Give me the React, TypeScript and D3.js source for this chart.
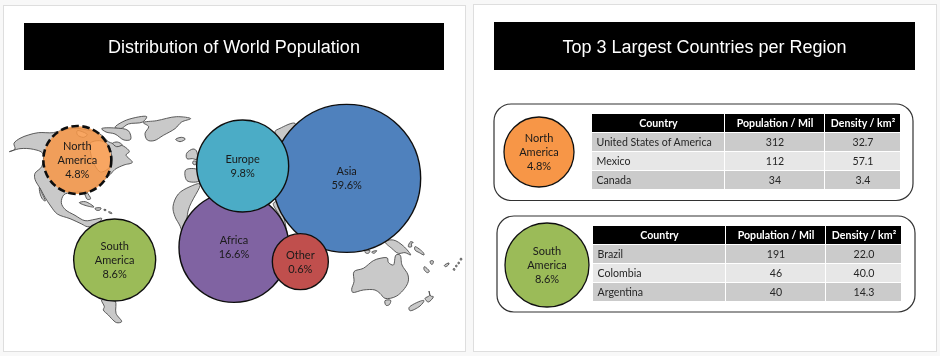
import React from "react";
import * as d3 from "d3";

const regionNames = ["Asia", "Africa", "Europe", "Other", "South America", "North America"];
const regionShares = [59.6, 16.6, 9.8, 0.6, 8.6, 4.8];
const regionColors = ["#4F81BD", "#8064A2", "#4BACC6", "#C0504D", "#9BBB59", "#F79646"];
// where each bubble sits on the map, in map units (source crop of 3x pixels)
const regionMapX = [1040, 702, 728, 901, 344, 232];
const regionMapY = [265, 472, 228, 515, 510, 210];
const shareDomain = [0.6, 4.8, 8.6, 9.8, 16.6, 59.6];
const radiusRange = [28, 34, 41, 46, 55, 74];

const tableHeader = ["Country", "Population / Mil", "Density / km²"];
const naCountries = ["United States of America", "Mexico", "Canada"];
const naPopulation = ["312", "112", "34"];
const naDensity = ["32.7", "57.1", "3.4"];
const saCountries = ["Brazil", "Colombia", "Argentina"];
const saPopulation = ["191", "46", "40"];
const saDensity = ["22.0", "40.0", "14.3"];

type P = [number, number];
// Outlines in map units: [x,y] * 1/3 px + crop origin
const landA: P[][] = [ // origin 0,110
  [[28,125],[45,117],[42,100],[60,85],[85,75],[115,68],[160,68],[190,60],[230,55],[270,62],[300,72],[325,95],[338,100],[370,108],[388,125],[378,135],[397,157],[372,165],[345,178],[332,192],[300,220],[275,238],[262,245],[272,266],[262,268],[250,248],[215,248],[192,254],[184,278],[195,298],[225,316],[255,332],[285,328],[305,325],[290,345],[262,350],[245,342],[210,326],[172,312],[152,288],[135,262],[122,238],[105,208],[105,190],[125,170],[128,130],[100,118],[60,116]],
  [[118,232],[126,250],[136,273],[128,268],[120,250]],
  [[430,38],[470,32],[530,20],[572,26],[545,36],[525,56],[490,76],[462,92],[442,90],[435,70],[446,50]],
  [[345,52],[380,30],[440,20],[428,36],[385,42],[362,56]],
  [[305,56],[345,54],[385,62],[392,88],[372,90],[345,72],[318,66]],
  [[338,100],[352,96],[366,104],[350,110]],
  [[527,88],[545,82],[556,87],[540,95]],
  [[238,278],[256,275],[282,291],[262,288]],
  [[285,295],[303,294],[300,300],[288,300]],
  [[312,298],[318,299],[317,302],[312,301]],
  [[326,305],[336,309],[335,311],[326,307]],
];
const bayA: P[][] = [ // origin 0,110: inland water seen through the North America bubble
  [[270,100],[298,92],[322,102],[334,130],[330,170],[302,186],[284,165],[272,130]],
  [[232,62],[262,74],[250,82],[232,74]],
];
const landB: P[][] = [ // origin 340,230
  [[42,125],[70,115],[100,92],[120,85],[142,84],[145,97],[160,105],[168,75],[180,75],[186,105],[204,135],[203,160],[170,198],[135,205],[120,190],[105,180],[70,180],[38,187],[35,178],[42,155]],
  [[135,212],[152,211],[148,224],[138,226]],
  [[207,233],[245,212],[252,212],[240,228],[210,242]],
  [[255,205],[268,197],[267,183],[272,198],[280,200],[265,216]],
  [[135,35],[160,30],[190,48],[212,75],[195,68],[175,70],[155,55]],
  [[205,50],[212,35],[220,38],[214,40],[215,50]],
  [[225,50],[250,68],[252,75],[238,68],[225,60]],
  [[75,62],[90,62],[85,70],[76,68]],
  [[95,66],[110,62],[102,70]],
  [[253,110],[268,124],[262,128],[252,118]],
  [[271,93],[280,93],[277,103],[272,101]],
  [[313,106],[327,99],[325,105],[316,110]],
  [[340,116],[344,116],[344,121],[340,120]],
  [[347,106],[351,106],[351,110],[347,110]],
  [[354,97],[358,97],[358,101],[354,101]],
  [[361,85],[365,85],[365,90],[361,90]],
];
const landC: P[][] = [ // origin 165,110
  [[65,130],[84,117],[94,122],[96,148],[82,146],[66,146]],
  [[84,154],[93,154],[92,164],[84,162]],
  [[62,180],[100,180],[104,212],[66,212]],
  [[105,222],[75,230],[40,252],[24,290],[30,320],[46,350],[60,400],[70,300]],
  [[330,65],[345,55],[390,40],[392,72],[358,95]],
  [[325,280],[340,275],[368,385],[345,320]],
];
const landD: P[][] = [ // origin 80,280
  [[65,60],[105,62],[108,100],[125,125],[110,128],[95,116],[85,105],[70,90],[73,80]],
];
const landGroups: { x0: number; y0: number; shapes: P[][]; fill: string }[] = [
  { x0: 0, y0: 110, shapes: landA, fill: "#C9C9C9" },
  { x0: 0, y0: 110, shapes: bayA, fill: "#ffffff" },
  { x0: 340, y0: 230, shapes: landB, fill: "#C9C9C9" },
  { x0: 165, y0: 110, shapes: landC, fill: "#C9C9C9" },
  { x0: 80, y0: 280, shapes: landD, fill: "#C9C9C9" },
];

const FONT = "Lato, 'Open Sans', sans-serif";
const radius = d3.scaleLinear().domain(shareDomain).range(radiusRange);
const mapX = d3.scaleLinear().domain([0, 3]).range([0, 1]);
const mapY = d3.scaleLinear().domain([0, 3]).range([90, 91]);

function labelLines(name: string, share: number) {
  return [...name.split(" "), `${share.toFixed(1)}%`];
}

function Bubble({ cx, cy, r, fill, name, share, sw = 1.5, dash, opacity = 1, lh = 14 }: any) {
  const lines = labelLines(name, share);
  return (
    <g>
      <circle cx={cx} cy={cy} r={r} fill={fill} fillOpacity={opacity} stroke="#111" strokeWidth={sw} strokeDasharray={dash} />
      <text textAnchor="middle" fontFamily={FONT} fontSize={11} fill="#1a1a1a">
        {lines.map((l, i) => (
          <tspan key={i} x={cx} y={cy + (i - (lines.length - 1) / 2) * lh + 4}>{l}</tspan>
        ))}
      </text>
    </g>
  );
}

function CountryTable({ x, yTop, splits, rowYs, countries, pop, dens }: any) {
  const rows = countries.map((c: string, i: number) => [c, pop[i], dens[i]]);
  const xs = [x, ...splits];
  return (
    <g fontFamily={FONT} fontSize={10.6}>
      {tableHeader.map((h, j) => (
        <g key={h}>
          <rect x={xs[j]} y={yTop} width={xs[j + 1] - xs[j] - 1} height={rowYs[0] - yTop - 1} fill="#000" />
          <text x={(xs[j] + xs[j + 1]) / 2} y={(yTop + rowYs[0]) / 2 + 3.5} textAnchor="middle" fill="#fff" fontWeight={700}>{h}</text>
        </g>
      ))}
      {rows.map((row: string[], i: number) =>
        row.map((v, j) => (
          <g key={j}>
            <rect x={xs[j]} y={rowYs[i]} width={xs[j + 1] - xs[j] - 1} height={rowYs[i + 1] - rowYs[i] - 1} fill={i % 2 ? "#E7E7E7" : "#CBCBCB"} />
            <text x={j === 0 ? xs[j] + 4.5 : (xs[j] + xs[j + 1]) / 2} y={(rowYs[i] + rowYs[i + 1]) / 2 + 3.5} textAnchor={j === 0 ? "start" : "middle"} fill="#262626">{v}</text>
          </g>
        ))
      )}
    </g>
  );
}

export default function App() {
  const line = d3.line().curve(d3.curveCatmullRomClosed.alpha(0.5));
  const order = regionNames.map((_, i) => i);
  const idx = (n: string) => regionNames.indexOf(n);
  const na = idx("North America");
  const sa = idx("South America");
  return (
    <svg width={940} height={356} style={{ position: "absolute", left: 0, top: 0, background: "#f8f8f8" }}>
      <defs>
        <filter id="soft" x="0" y="0" width="100%" height="100%">
          <feGaussianBlur stdDeviation="0.35" />
        </filter>
      </defs>
      <g filter="url(#soft)">
        <rect x={3.5} y={5.5} width={462} height={346} fill="#fff" stroke="#dedede" />
        <rect x={473.5} y={4.5} width={463} height={347} fill="#fff" stroke="#dedede" />
        <rect x={24} y={23} width={420} height={47} fill="#000" />
        <rect x={494} y={22} width={421} height={48} fill="#000" />
        <text x={234} y={53} textAnchor="middle" fill="#fff" fontFamily="'Liberation Sans', Arial, sans-serif" fontSize={18}>Distribution of World Population</text>
        <text x={704.5} y={53} textAnchor="middle" fill="#fff" fontFamily="'Liberation Sans', Arial, sans-serif" fontSize={18}>Top 3 Largest Countries per Region</text>

        {landGroups.map((g, k) => (
          <g key={k}>
            {g.shapes.map((s, i) => (
              <path key={i} d={line(s.map(([a, b]) => [g.x0 + a / 3, g.y0 + b / 3]))!} fill={g.fill} stroke="#4a4a4a" strokeWidth={0.9} strokeLinejoin="round" />
            ))}
          </g>
        ))}
        {order.map((i) => (
          <Bubble key={i} cx={mapX(regionMapX[i])} cy={mapY(regionMapY[i])} r={radius(regionShares[i])} fill={regionColors[i]}
            name={regionNames[i]} share={regionShares[i]}
            sw={regionNames[i] === "North America" ? 2.6 : 1.4}
            dash={regionNames[i] === "North America" ? "7.5 3.5" : undefined}
            opacity={regionNames[i] === "North America" ? 0.85 : 1} />
        ))}

        <rect x={494} y={104} width={419} height={96.5} rx={17} fill="#fff" stroke="#333" strokeWidth={1.2} />
        <Bubble cx={539} cy={152} r={35} fill={regionColors[na]} name={regionNames[na]} share={regionShares[na]} sw={1.3} />
        <CountryTable x={592} yTop={114} splits={[725, 825, 901]} rowYs={[133, 152, 171, 190]} countries={naCountries} pop={naPopulation} dens={naDensity} />

        <rect x={497} y={216} width={418} height={96} rx={17} fill="#fff" stroke="#333" strokeWidth={1.2} />
        <Bubble cx={547} cy={265} r={42} fill={regionColors[sa]} name={regionNames[sa]} share={regionShares[sa]} sw={1.3} />
        <CountryTable x={593} yTop={226} splits={[726, 826, 902]} rowYs={[245, 264, 283, 302]} countries={saCountries} pop={saPopulation} dens={saDensity} />
      </g>
    </svg>
  );
}
